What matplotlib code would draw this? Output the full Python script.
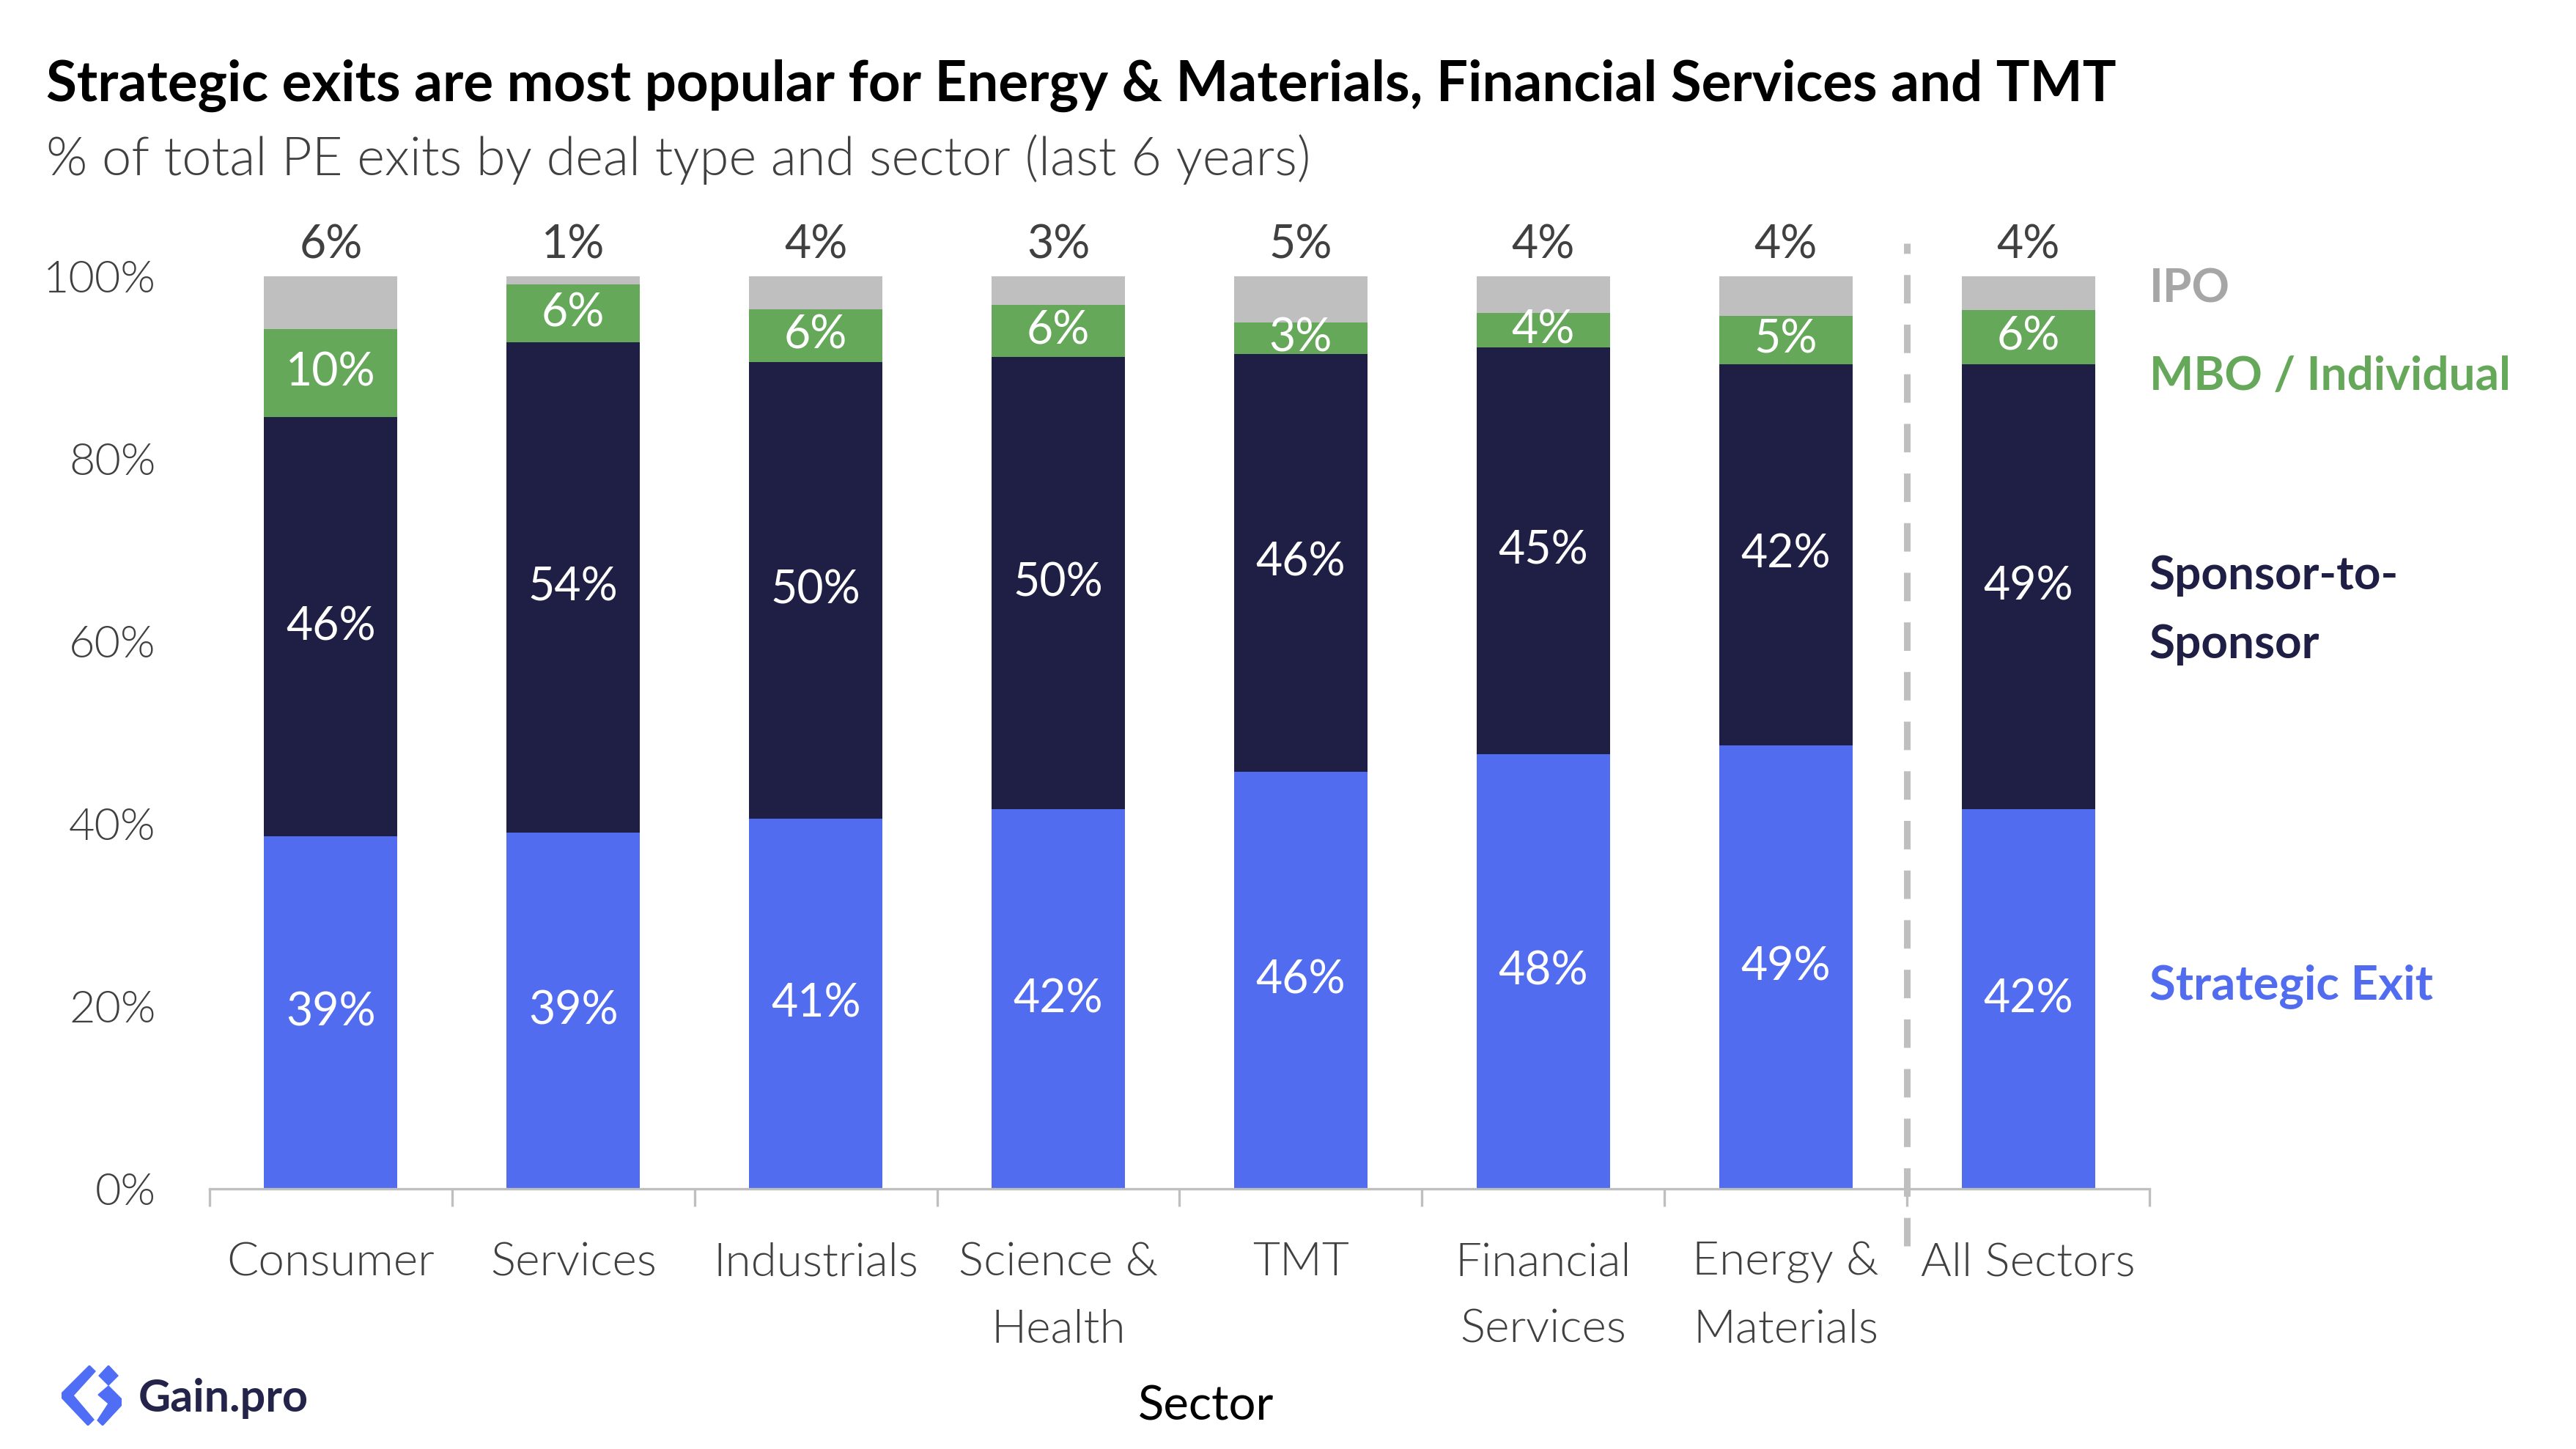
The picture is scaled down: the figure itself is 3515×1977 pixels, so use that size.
import os
import numpy as np
import matplotlib.pyplot as plt
import matplotlib.font_manager as fm
from matplotlib.patches import Polygon

# Data (% of total PE exits)
sectors = ['Consumer', 'Services', 'Industrials', 'Science &\nHealth', 'TMT',
           'Financial\nServices', 'Energy &\nMaterials', 'All Sectors']
strategic = [38.6, 39.0, 40.6, 41.6, 45.7, 47.6, 48.6, 41.6]
sponsor = [46.0, 53.8, 50.0, 49.6, 45.8, 44.6, 41.8, 48.8]
mbo = [9.6, 6.3, 5.8, 5.7, 3.4, 3.8, 5.3, 5.9]
ipo = [5.8, 0.9, 3.6, 3.1, 5.1, 4.0, 4.3, 3.7]

# Colours
C_STRAT = '#516CEF'
C_SPON = '#1F1F45'
C_MBO = '#66A85A'
C_IPO = '#BFBFBF'
C_IPO_TXT = '#A6A6A6'
C_TXT = '#404040'

FONT = 'Lato'
plt.rcParams['font.family'] = [FONT, 'DejaVu Sans']


def pick_light():
    # look for a light (not hairline/thin) cut of a humanist sans
    prefs = ['Lato-Light', 'OpenSans-Light', 'Roboto-Light', 'NotoSans-Light',
             'Inter-Light']
    files = fm.findSystemFonts()
    for p in prefs:
        for f in files:
            base = os.path.basename(f)
            if base.startswith(p) and 'Italic' not in base:
                return fm.FontProperties(fname=f)
    return fm.FontProperties(family=FONT)


light = pick_light()

fig = plt.figure(figsize=(35.16, 19.77), dpi=100)
ax = fig.add_axes([286 / 3516, 1 - 1622 / 1977, 2647 / 3516, 1245 / 1977])

x = np.arange(len(sectors))
w = 0.55
layers = [strategic, sponsor, mbo, ipo]
colors = [C_STRAT, C_SPON, C_MBO, C_IPO]
bottom = np.zeros(len(sectors))
for vals, col in zip(layers, colors):
    vals = np.array(vals)
    ax.bar(x, vals, w, bottom=bottom, color=col, edgecolor='none')
    bottom += vals

# Labels inside bars (white)
bottom = np.zeros(len(sectors))
for vals in layers[:3]:
    vals = np.array(vals)
    for xi, b, v in zip(x, bottom, vals):
        ax.text(xi, b + v / 2, f'{round(v)}%', ha='center', va='center',
                color='white', fontsize=45)
    bottom += vals

# IPO labels above bars
for xi, v in zip(x, ipo):
    ax.text(xi, 103.4, f'{round(v)}%', ha='center', va='center',
            color=C_TXT, fontsize=45, clip_on=False)

# Series names on the right
ax.text(7.5, 98.6, 'IPO', color=C_IPO_TXT, fontsize=46, fontweight='bold',
        va='center', ha='left', clip_on=False)
ax.text(7.5, 89.0, 'MBO / Individual', color=C_MBO, fontsize=46,
        fontweight='bold', va='center', ha='left', clip_on=False)
ax.text(7.5, 63.4, 'Sponsor-to-\nSponsor', color=C_SPON, fontsize=46,
        fontweight='bold', va='center', ha='left', linespacing=1.8,
        clip_on=False)
ax.text(7.5, 22.1, 'Strategic Exit', color=C_STRAT, fontsize=47,
        fontweight='bold', va='center', ha='left', clip_on=False)

# Separator before "All Sectors"
ax.plot([6.5, 6.5], [-6.3, 103.6], color=C_IPO, lw=6.5, ls=(0, (4.3, 3.2)),
        clip_on=False)

# Axes styling
ax.set_xlim(-0.5, 7.5)
ax.set_ylim(0, 100)
for s in ['top', 'right', 'left']:
    ax.spines[s].set_visible(False)
ax.spines['bottom'].set_color(C_IPO)
ax.spines['bottom'].set_linewidth(2.4)

ax.set_yticks(np.arange(0, 101, 20))
ax.set_yticklabels([f'{v}%' for v in range(0, 101, 20)])
ax.tick_params(axis='y', length=0, pad=53)
for lbl in ax.get_yticklabels():
    lbl.set_fontproperties(light)
    lbl.set_fontsize(44)
    lbl.set_color(C_TXT)

ax.set_xticks(x)
ax.set_xticklabels(sectors)
ax.set_xticks(np.arange(-0.5, 8, 1), minor=True)
ax.tick_params(axis='x', which='major', length=0, pad=52)
ax.tick_params(axis='x', which='minor', length=17, width=2.4, color=C_IPO)
for lbl in ax.get_xticklabels():
    lbl.set_fontproperties(light)
    lbl.set_fontsize(46)
    lbl.set_color(C_TXT)
    lbl.set_linespacing(1.75)
    lbl.set_verticalalignment('top')

# Titles
fig.text(0.0179, 0.941, 'Strategic exits are most popular for Energy & Materials, '
         'Financial Services and TMT', fontsize=55, fontweight='bold',
         color='black', va='center', ha='left')
fig.text(0.0179, 0.8898, '% of total PE exits by deal type and sector (last 6 years)',
         fontproperties=light, fontsize=52, color=C_TXT, va='center', ha='left')
fig.text(0.468, 0.0293, 'Sector', fontsize=47, color='black',
         va='center', ha='center')

# Logo
lax = fig.add_axes([84 / 3516, 1 - 1945 / 1977, 82 / 3516, 82 / 1977])
lax.set_xlim(0, 82)
lax.set_ylim(0, 82)
lax.axis('off')
logo_col = '#4F6DF5'
lax.add_patch(Polygon([(38, 82), (0, 44), (0, 38), (36, 0), (44, 8), (16, 41),
                       (46, 74)], closed=True, color=logo_col))
lax.add_patch(Polygon([(64, 82), (77, 68), (64, 55), (51, 68)], closed=True,
                      color=logo_col))
lax.add_patch(Polygon([(64, 54), (82, 36), (82, 28), (56, 0), (49, 7),
                       (64, 30), (50, 42)], closed=True, color=logo_col))
fig.text(189 / 3516, 1 - 1908 / 1977, 'Gain.pro', fontsize=44, fontweight='bold',
         color='#24244A', va='center', ha='left')

fig.savefig('out.png', dpi=100, facecolor='white')
